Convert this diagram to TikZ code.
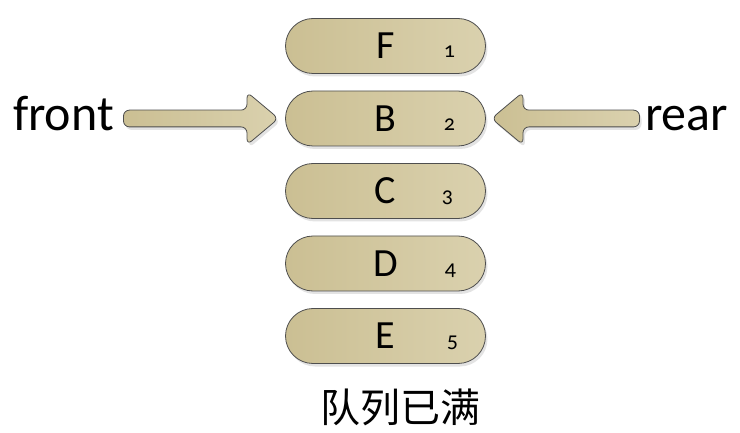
\documentclass[tikz,border=0pt]{standalone}
\usepackage{fontspec}
\setmainfont{Carlito}
\newfontfamily\cjk{Noto Sans CJK SC}
\newfontfamily\oldnum[Numbers=OldStyle]{Carlito}
\usepackage{tikz}
\usetikzlibrary{shapes,shapes.misc,shapes.arrows,shadows,calc,positioning}
\definecolor{sand}{HTML}{CBBF93}
\definecolor{sandlight}{HTML}{DAD1AE}
\definecolor{rim}{HTML}{4E4E4E}
\tikzset{
    slot/.style = {rounded rectangle, draw=rim, line width=0.8pt, left color=sand, right color=sandlight,
                   minimum width=200pt, minimum height=55pt, inner sep=0pt,
                   drop shadow={shadow xshift=2pt, shadow yshift=-3pt, opacity=0.22},
                   font=\fontsize{40}{40}\selectfont},
    num/.style = {inner sep=0pt, anchor=base, font=\oldnum\fontsize{22}{22}\selectfont},
    blockarrow/.style = {single arrow, draw=rim, line width=0.8pt, left color=sand, right color=sandlight,
                   minimum width=0pt, inner xsep=0pt, inner ysep=8pt,
                   single arrow head extend=18pt, single arrow tip angle=80,
                   rounded corners=6pt,
                   drop shadow={shadow xshift=2pt, shadow yshift=-3pt, opacity=0.22}},
    lbl/.style = {inner sep=0pt, font=\fontsize{50}{50}\selectfont}
}
\begin{document}
\begin{tikzpicture}[x=1pt,y=-1pt]
    \useasboundingbox (0,0) rectangle (740,433);
    % queue slots, top to bottom
    \foreach \name/\idx/\dx [count=\i from 0] in {F/1/0, B/2/0, C/3/-2, D/4/1, E/5/3} {
        \node[slot] (\name) at (385.5, 46+72.5*\i) {\name};
        \node[num] (n\idx) at ($(\name.center)+(64+\dx,12)$) {\idx};
    }
    % pointers
    \node[blockarrow, minimum height=155pt, anchor=tip] (fa) at ($(B.west)+(-6,0)$) {};
    \node[blockarrow, minimum height=148pt, shape border rotate=180, anchor=tip] (ra) at ($(B.east)+(5,0)$) {};
    \node[lbl, anchor=base east] (front) at ($(fa.tail)+(-9,12)$) {front};
    \node[lbl, anchor=base west] (rear) at ($(ra.tail)+(5,12)$) {rear};
    \node[inner sep=0pt, font=\cjk\fontsize{40}{40}\selectfont] (full) at ($(E.center)+(15,71)$) {队列已满};
\end{tikzpicture}
\end{document}
